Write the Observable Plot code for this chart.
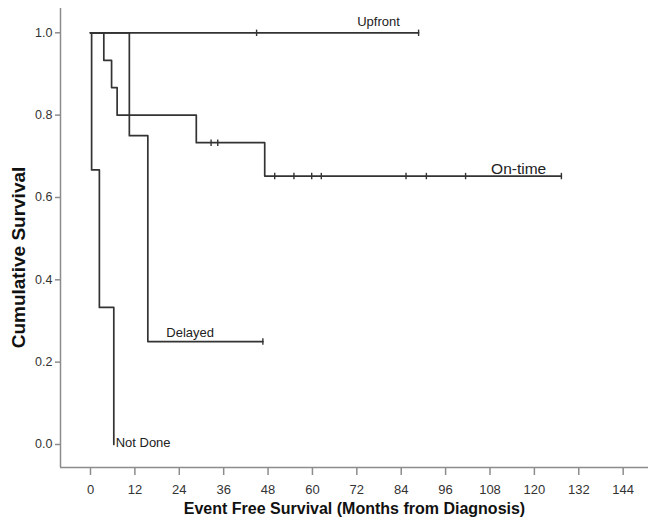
<!DOCTYPE html>
<html>
<head>
<meta charset="utf-8">
<script src="https://cdn.jsdelivr.net/npm/d3@7"></script>
<script src="https://cdn.jsdelivr.net/npm/@observablehq/plot@0.6"></script>
<style>
  html, body { margin: 0; padding: 0; background: #fff; }
  svg { display: block; }
</style>
</head>
<body>
<div id="chart"></div>
<script>
// Kaplan–Meier step curves
const groups = ["Upfront", "On-time", "Delayed", "Not Done"];

const upfrontTimes = [0, 88.7];
const upfrontSurv  = [1, 1];
const upfrontCensor = [44.9, 88.7];

const onTimeTimes = [0, 3.6, 5.7, 7.2, 28.6, 47.1, 127.3];
const onTimeSurv  = [1, 0.933, 0.867, 0.8, 0.733, 0.652, 0.652];
const onTimeCensor = [32.6, 34.4, 49.8, 55.0, 59.8, 62.4, 85.3, 90.8, 101.4, 127.3];

const delayedTimes = [0, 10.5, 15.5, 15.5, 46.6];
const delayedSurv  = [1, 0.75, 0.5, 0.25, 0.25];
const delayedCensor = [46.6];

const notDoneTimes = [0, 0.3, 2.4, 6.3];
const notDoneSurv  = [1, 0.667, 0.333, 0];
const notDoneCensor = [];

const xTicks = [0, 12, 24, 36, 48, 60, 72, 84, 96, 108, 120, 132, 144];
const yTicks = [0, 0.2, 0.4, 0.6, 0.8, 1.0];

// curve label annotations (data coordinates)
const labelText = ["Upfront", "On-time", "Delayed", "Not Done"];
const labelX    = [72.1, 108.3, 20.5, 6.8];
const labelY    = [1.027, 0.669, 0.271, 0.005];
const labelSize = [13, 15.5, 13, 13];

const series = [
  [upfrontTimes, upfrontSurv, upfrontCensor],
  [onTimeTimes, onTimeSurv, onTimeCensor],
  [delayedTimes, delayedSurv, delayedCensor],
  [notDoneTimes, notDoneSurv, notDoneCensor]
];

const steps = [];
const censors = [];
series.forEach(([t, s, c], gi) => {
  t.forEach((ti, i) => steps.push({group: groups[gi], time: ti, surv: s[i]}));
  c.forEach(ci => {
    // survival at censor time: last step value at or before ci
    let v = s[0];
    for (let i = 0; i < t.length; i++) if (t[i] <= ci) v = s[i];
    censors.push({group: groups[gi], time: ci, surv: v});
  });
});

const labels = labelText.map((txt, i) => ({text: txt, x: labelX[i], y: labelY[i], size: labelSize[i]}));

const tickSymbol = {
  draw(context) {
    context.moveTo(0, -3.2);
    context.lineTo(0, 3.2);
  }
};

const xMin = -8.11, xMax = 150.85;
const yMin = -0.0559, yMax = 1.059;
const lineColor = "#333";
const axisColor = "#8c8c8c";
const font = "'Liberation Sans', Arial, sans-serif";

const chart = Plot.plot({
  width: 648,
  height: 524,
  marginLeft: 60,
  marginRight: 0,
  marginTop: 8,
  marginBottom: 57,
  style: {fontFamily: font, background: "#fff", overflow: "visible"},
  x: {domain: [xMin, xMax]},
  y: {domain: [yMin, yMax]},
  marks: [
    // frame lines (left and bottom)
    Plot.ruleX([xMin], {stroke: axisColor, strokeWidth: 1.5}),
    Plot.ruleY([yMin], {stroke: axisColor, strokeWidth: 1.5}),
    Plot.axisX({
      ticks: xTicks, tickSize: 8, tickPadding: 9, label: null,
      stroke: axisColor, strokeWidth: 1.5, fill: "#333", fontSize: 13
    }),
    Plot.axisY({
      ticks: yTicks, tickSize: 5, tickPadding: 3, label: null,
      tickFormat: d3.format(".1f"),
      stroke: axisColor, strokeWidth: 1.5, fill: "#333", fontSize: 12.5
    }),
    Plot.line(steps, {
      x: "time", y: "surv", z: "group", curve: "step-after",
      stroke: lineColor, strokeWidth: 1.7
    }),
    Plot.dot(censors, {
      x: "time", y: "surv", symbol: tickSymbol, r: 3,
      fill: "none", stroke: lineColor, strokeWidth: 1.4
    }),
    Plot.text(labels, {
      x: "x", y: "y", text: "text", fontSize: d => d.size,
      textAnchor: "start", lineAnchor: "middle", fill: "#222"
    }),
    Plot.text(["Event Free Survival (Months from Diagnosis)"], {
      frameAnchor: "bottom", dy: 41.5, lineAnchor: "middle", textAnchor: "middle",
      fontSize: 16, fontWeight: "bold", fill: "#111"
    }),
    Plot.text(["Cumulative Survival"], {
      frameAnchor: "left", dx: -42, dy: 19.5, rotate: -90,
      lineAnchor: "middle", textAnchor: "middle",
      fontSize: 19, fontWeight: "bold", fill: "#111"
    })
  ]
});

document.getElementById("chart").appendChild(chart);
</script>
</body>
</html>
